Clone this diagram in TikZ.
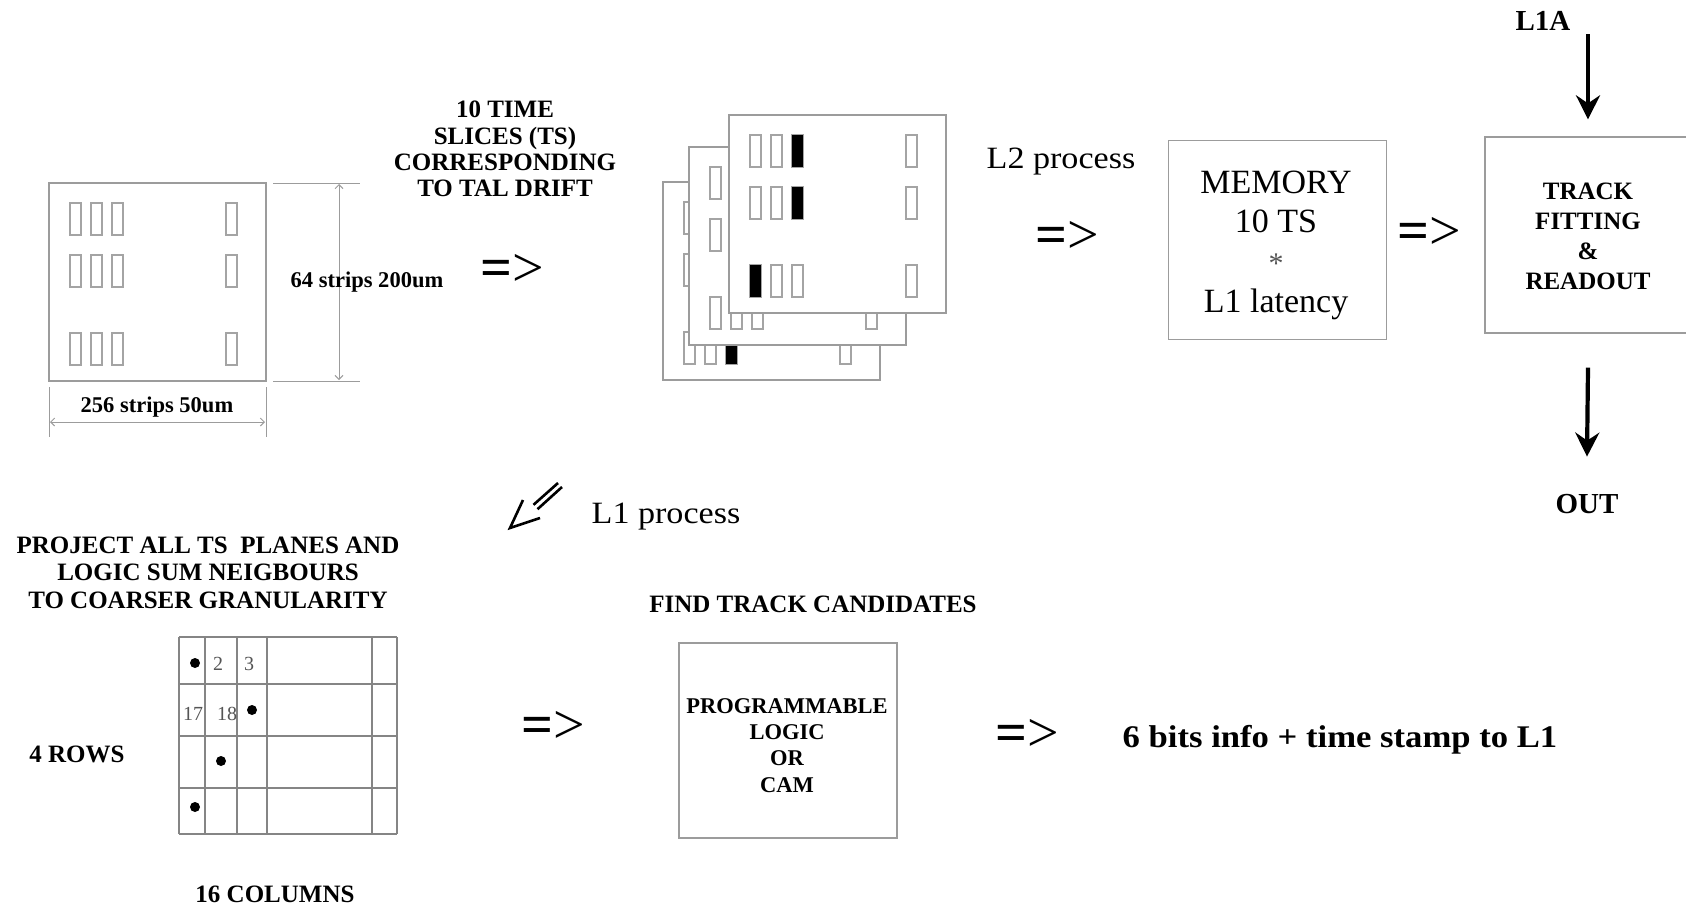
\documentclass[tikz,border=0pt]{standalone}
\usepackage{fontspec}
\setmainfont{Liberation Serif}
\newfontfamily\wideserif{Liberation Serif}[FakeStretch=1.1]
\usetikzlibrary{arrows.meta,calc}
\definecolor{boxgray}{HTML}{9C9C9C}
\definecolor{stripgray}{HTML}{A4A4A4}
\definecolor{gridgray}{HTML}{858585}
\definecolor{numgray}{HTML}{555555}
\tikzset{
  bx/.style={draw=boxgray, line width=1.3bp},
  stripbox/.style={draw=stripgray, line width=1.1bp},
  dimline/.style={draw=boxgray, line width=1bp},
  dimtip/.style={{Straight Barb[length=4bp,width=8bp]}-{Straight Barb[length=4bp,width=8bp]}},
  gridline/.style={draw=gridgray, line width=1.1bp},
  bigarrow/.style={line width=4.2bp, -{Stealth[length=24bp,width=24bp,inset=8bp]}},
  tb/.style={font=\bfseries\fontsize{25bp}{26.3bp}\selectfont, align=center, inner sep=0pt},
  dimlabel/.style={font=\bfseries\fontsize{22.5bp}{24bp}\selectfont, inner sep=0pt, anchor=base},
  proc/.style={font=\wideserif\fontsize{31bp}{34bp}\selectfont, inner sep=0pt, anchor=base},
  memtxt/.style={font=\fontsize{34bp}{36bp}\selectfont, inner sep=0pt, anchor=base},
  bigbold/.style={font=\bfseries\fontsize{29bp}{31bp}\selectfont, inner sep=0pt, anchor=base},
  midbold/.style={font=\bfseries\fontsize{25bp}{27.5bp}\selectfont, inner sep=0pt, align=center},
  gonum/.style={font=\fontsize{20bp}{20bp}\selectfont, text=numgray, inner sep=0pt, anchor=base},
  implies/.style={font=\fontsize{56bp}{60bp}\selectfont, inner sep=0pt},
  detplane/.pic={
    \draw[bx, fill=white] (0,0) rectangle (217,198);
    \foreach \sx in {21,42,63,177}{
      \foreach \sy in {20,72,150}{
        \draw[stripbox] (\sx,\sy) rectangle ++(11,32);
      }
    }
  }
}
\newcommand\impl{\textbf{=}>}
\begin{document}
\begin{tikzpicture}[x=1bp,y=-1bp]
\useasboundingbox (0,0) rectangle (1686,905);
\clip (0,0) rectangle (1686,905);

% ---- left detector with dimensions
\pic at (49,183) {detplane};
\coordinate (dtr) at (273,183);
\coordinate (dtre) at (360,183);
\coordinate (dbr) at (273,381);
\coordinate (dbre) at (360,381);
\draw[dimline] (dtr) -- (dtre);
\draw[dimline] (dbr) -- (dbre);
\coordinate (va) at (339,184);
\coordinate (vb) at (339,380);
\draw[dimline, dimtip] (va) -- (vb);
\node[dimlabel] (l64) at (367,287) {64 strips 200um};
\coordinate (el1) at (49,387);
\coordinate (el2) at (49,437);
\coordinate (er1) at (266,387);
\coordinate (er2) at (266,437);
\draw[dimline] (el1) -- (el2);
\draw[dimline] (er1) -- (er2);
\coordinate (ha) at (50,422);
\coordinate (hb) at (265,422);
\draw[dimline, dimtip] (ha) -- (hb);
\node[dimlabel] (l256) at (157,412) {256 strips 50um};

% ---- time slices text and arrow
\node[tb] (tsl) at (505,149) {10 TIME\\SLICES (TS)\\CORRESPONDING\\TO TAL DRIFT};
\node[implies] (imp1) at (512,270) {\impl};

% ---- stacked planes
\pic at (663,182) {detplane};
\fill (726,332) rectangle ++(11,32);
\pic at (689,147) {detplane};
\pic at (729,115) {detplane};
\fill (792,135) rectangle ++(11,32);
\fill (792,187) rectangle ++(11,32);
\fill (750,265) rectangle ++(11,32);

% ---- L2 process and memory
\node[proc] (l2) at (1061,168) {L2 process};
\node[implies] (imp2) at (1067.5,237.5) {\impl};
\node[bx, minimum width=218bp, minimum height=199bp, inner sep=0pt] (mem) at (1277.5,240) {};
\node[memtxt] (m1) at (1276,193) {MEMORY};
\node[memtxt] (m2) at (1276,232) {10 TS};
\node[font=\fontsize{30bp}{30bp}\selectfont, text=numgray, inner sep=0pt, anchor=base] (m3) at (1276,273) {*};
\node[memtxt] (m4) at (1276,312) {L1 latency};
\node[implies] (imp3) at (1429,233) {\impl};

% ---- track fitting
\node[bx, minimum width=206bp, minimum height=196bp, inner sep=0pt] (track) at (1588,235) {};
\node[tb, font=\bfseries\fontsize{25bp}{29.9bp}\selectfont] (tracktxt) at (1588,236) {TRACK\\FITTING\\\&\\READOUT};
\node[bigbold] (l1a) at (1543,30) {L1A};
\draw[bigarrow] ($(track.north |- l1a.south)+(0,4)$) -- ($(track.north)+(0,-17)$);
\node[bigbold] (out) at (1587,513) {OUT};
\draw[bigarrow] ($(track.south)+(0,34)$) -- ($(out.north)+(0,-37)$);

% ---- L1 process double arrow
\coordinate (sa1) at (558,483);
\coordinate (sa2) at (533.5,504.8);
\coordinate (sb1) at (562,487);
\coordinate (sb2) at (537.5,509.2);
\coordinate (tip) at (510,528);
\coordinate (arm1) at (523,500);
\coordinate (arm2) at (540,518);
\draw[line width=2.6bp] (sa1) -- (sa2);
\draw[line width=2.6bp] (sb1) -- (sb2);
\draw[line width=2.6bp, line join=miter] (arm1) -- (tip) -- (arm2);
\node[proc] (l1) at (666,523) {L1 process};

% ---- projection text and grid
\node[midbold] (proj) at (208,572.5) {PROJECT ALL TS~ PLANES AND\\LOGIC SUM NEIGBOURS\\TO COARSER GRANULARITY};
\foreach \gx in {179,205,237,267,372,397}{
  \draw[gridline] (\gx,637) -- (\gx,834);
}
\foreach \gy in {637,684,736,788,834}{
  \draw[gridline] (179,\gy) -- (397,\gy);
}
\fill (195,663) circle (5);
\node[gonum] (n2) at (218,670) {2};
\node[gonum] (n3) at (249,670) {3};
\node[gonum] (n17) at (193,720) {17};
\node[gonum] (n18) at (227,720) {18};
\fill (252,710) circle (5);
\fill (221,761) circle (5);
\fill (195,807) circle (5);
\node[midbold, anchor=base] (rows) at (77,762) {4 ROWS};
\node[midbold, anchor=base] (cols) at (275,902) {16 COLUMNS};

% ---- track candidates
\node[implies] (imp4) at (553,727) {\impl};
\node[midbold, anchor=base] (find) at (813,612) {FIND TRACK CANDIDATES};
\node[bx, minimum width=218bp, minimum height=195bp, inner sep=0pt] (prog) at (788,740.5) {};
\node[tb, font=\bfseries\fontsize{22.5bp}{26.3bp}\selectfont] (progtxt) at (787,745.5) {PROGRAMMABLE\\LOGIC\\OR\\CAM};
\node[implies] (imp5) at (1027,735) {\impl};
\node[font=\wideserif\bfseries\fontsize{31.5bp}{33bp}\selectfont, inner sep=0pt, anchor=base] (bits) at (1340,747) {6 bits info + time stamp to L1};
\end{tikzpicture}
\end{document}
